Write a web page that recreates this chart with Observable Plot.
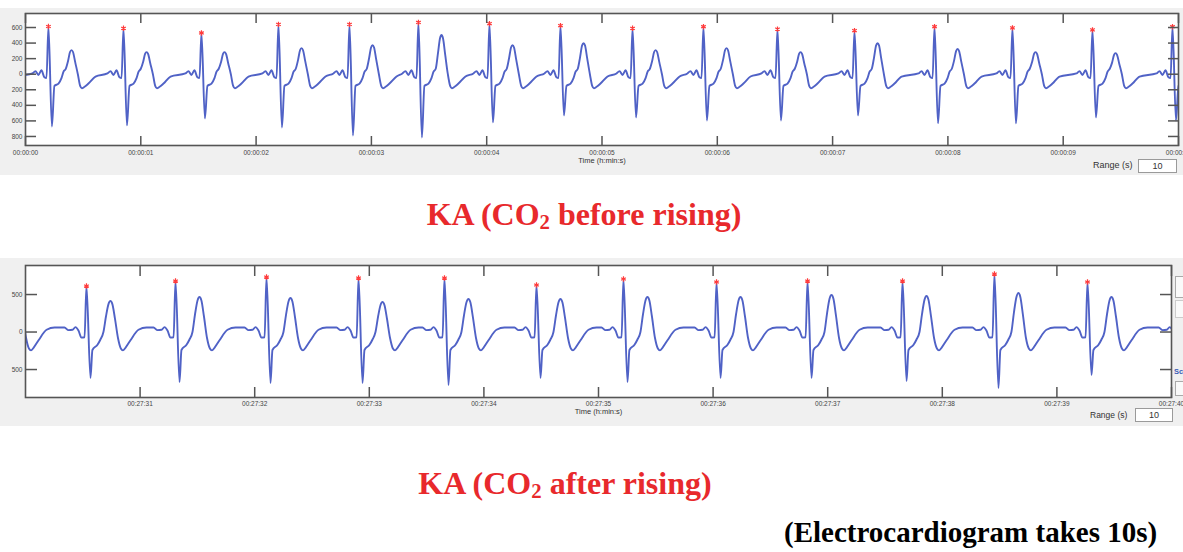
<!DOCTYPE html>
<html>
<head>
<meta charset="utf-8">
<script src="https://cdn.jsdelivr.net/npm/d3@7"></script>
<script src="https://cdn.jsdelivr.net/npm/@observablehq/plot@0.6"></script>
<style>
  html, body { margin: 0; padding: 0; background: #ffffff; overflow: hidden; }
  body { position: relative; width: 1183px; height: 552px; font-family: "Liberation Sans", Arial, sans-serif; }
  .panelbg { position: absolute; left: 0; width: 1183px; background: #f0f0f0; }
  .chart { position: absolute; left: 0; }
  .title { position: absolute; font-family: "Liberation Serif", "Times New Roman", serif; font-weight: bold; color: #e8292c; font-size: 32px; line-height: 1; white-space: nowrap; text-align: center; width: 600px; }
  .title sub { font-size: 0.65em; vertical-align: -0.18em; line-height: 0; }
  .caption { position: absolute; font-family: "Liberation Serif", "Times New Roman", serif; font-weight: bold; color: #000; font-size: 29px; line-height: 1; white-space: nowrap; }
  .rlabel { position: absolute; color: #333; white-space: nowrap; line-height: 1; }
  .rbox { position: absolute; background: #fff; border: 1px solid #9a9a9a; box-sizing: border-box; color: #333; text-align: center; line-height: 1; }
  .ui { position: absolute; box-sizing: border-box; }
</style>
</head>
<body>
<div class="panelbg" style="top:8px;height:167px"></div>
<div class="panelbg" style="top:258px;height:168px"></div>
<div id="chartTop" class="chart" style="top:0px"></div>
<div id="chartBottom" class="chart" style="top:258px"></div>

<div class="rlabel" style="left:1093px;top:161px;font-size:9px">Range (s)</div>
<div class="rbox" style="left:1138px;top:159px;width:39px;height:14px;font-size:9px;padding-top:2px">10</div>
<div class="rlabel" style="left:1090px;top:411px;font-size:8.5px">Range (s)</div>
<div class="rbox" style="left:1135px;top:408px;width:38px;height:14px;font-size:9px;padding-top:2px">10</div>

<div class="ui" style="left:1175px;top:276px;width:10px;height:22px;border:1px solid #aaa;background:#fafafa"></div>
<div class="ui" style="left:1175px;top:300px;width:10px;height:18px;border:1px solid #ccc;background:#fafafa"></div>
<div class="ui" style="left:1174px;top:368px;font-size:7.5px;font-weight:bold;color:#3a5bb5;line-height:1">Sc</div>
<div class="ui" style="left:1175px;top:381px;width:10px;height:15px;border:1px solid #aaa;background:#fafafa"></div>

<div class="title" style="left:284px;top:198px">KA (CO<sub>2</sub> before rising)</div>
<div class="title" style="left:265px;top:467px">KA (CO<sub>2</sub> after rising)</div>
<div class="caption" style="left:784px;top:518px">(Electrocardiogram takes 10s)</div>

<script>
// ---------- Top recording: 00:00:00 – 00:00:10 (CO2 before rising) ----------
// R-peak times (s); first and last are the neighbouring beats just outside the window
const beatTimeTop = [-0.47, 0.199, 0.850, 1.526, 2.194, 2.810, 3.408, 4.024, 4.640, 5.265, 5.880, 6.522, 7.190, 7.884, 8.560, 9.254, 9.948, 10.60];
const rPeakTop    = [600, 613, 590, 530, 640, 640, 665, 650, 625, 590, 610, 580, 560, 610, 595, 570, 610, 600];
const sTroughTop  = [-600, -671, -658, -568, -684, -787, -813, -619, -529, -555, -594, -594, -529, -632, -632, -555, -594, -600];
const tWaveTop    = [300, 310, 284, 284, 335, 374, 503, 374, 400, 310, 335, 284, 400, 323, 284, 271, 300, 300];
// beat shape: [seconds from R peak, value, reference]
// reference "S"/"T": value is a fraction of that beat's own S / T amplitude
const afterRTop  = [[0.030, 1, "S"], [0.052, -150], [0.087, -120], [0.113, -50], [0.130, 30], [0.150, 70],
                    [0.170, 0.55, "T"], [0.187, 0.92, "T"], [0.200, 1, "T"], [0.213, 0.92, "T"], [0.232, 0.5, "T"],
                    [0.255, 0], [0.275, -150], [0.290, -180], [0.310, -165], [0.347, -120], [0.408, -30]];
const beforeRTop = [[-0.139, 10], [-0.113, 40], [-0.087, -10], [-0.061, 50], [-0.035, -40], [-0.017, -50]];
const xTicksTop = [0, 1, 2, 3, 4, 5, 6, 7, 8, 9, 10];
const yTicksTop = [600, 400, 200, 0, -200, -400, -600, -800];

// ---------- Bottom recording: 00:27:30 – 00:27:40 (CO2 after rising) ----------
const beatTimeBottom = [29.73, 30.532, 31.309, 32.103, 32.906, 33.656, 34.459, 35.218, 36.030, 36.824, 37.653, 38.455, 39.267, 40.08];
const rPeakBottom    = [650, 613, 680, 733, 720, 720, 627, 707, 667, 680, 680, 773, 667, 650];
const sTroughBottom  = [-600, -613, -667, -680, -680, -707, -613, -667, -613, -613, -653, -747, -573, -600];
const tWaveBottom    = [430, 413, 467, 453, 400, 440, 440, 467, 467, 493, 480, 520, 467, 450];
const afterRBottom  = [[0.035, 1, "S"], [0.052, -240], [0.096, -170], [0.122, -100], [0.148, 0],
                       [0.170, 0.5, "T"], [0.192, 0.9, "T"], [0.209, 1, "T"], [0.226, 0.9, "T"], [0.248, 0.45, "T"],
                       [0.275, -80], [0.300, -220], [0.318, -245], [0.340, -210], [0.384, -110], [0.454, 30], [0.524, 60]];
const beforeRBottom = [[-0.192, 60], [-0.157, 25], [-0.122, 30], [-0.096, 65], [-0.070, 20], [-0.044, -75], [-0.017, -70]];
const xTicksBottom = [31, 32, 33, 34, 35, 36, 37, 38, 39, 40];
const yTicksBottom = [500, 0, -500];

const timeLabel = "Time (h:min:s)";

function buildTrace(times, R, S, T, after, before) {
  const pts = [];
  const val = (i, v, ref) => ref === "S" ? v * S[i] : ref === "T" ? v * T[i] : v;
  times.forEach((b, i) => {
    for (const [dt, v, ref] of before) pts.push({t: b + dt, v: val(i, v, ref)});
    pts.push({t: b, v: R[i]});
    for (const [dt, v, ref] of after) pts.push({t: b + dt, v: val(i, v, ref)});
  });
  return pts;
}
function peaksOf(times, R, lo, hi) {
  return times.map((t, i) => ({t, v: R[i]})).filter(d => d.t >= lo && d.t <= hi);
}

const W = 1183;
function ecgPlot(o) {
  const ml = 25;
  const pw = W - ml - o.mr, ph = o.height - o.mt - o.mb;
  const tickStyle = {stroke: "#555", strokeWidth: 1.5, label: null, tickFormat: () => ""};
  return Plot.plot({
    width: W, height: o.height,
    marginLeft: ml, marginRight: o.mr, marginTop: o.mt, marginBottom: o.mb,
    style: {background: "transparent", fontFamily: "'Liberation Sans', Arial, sans-serif", fontSize: "6.5px", color: "#444", overflow: "visible"},
    x: {domain: o.xDomain},
    y: {domain: o.yDomain},
    marks: [
      Plot.frame({fill: "white"}),
      Plot.line(o.trace, {x: "t", y: "v", stroke: "#5062c6", strokeWidth: 1.9, curve: "monotone-x", clip: true}),
      Plot.dot(o.peaks, {x: "t", y: "v", symbol: "asterisk", r: 2.5, stroke: "#ff3b3b", strokeWidth: 1.2}),
      Plot.axisY(o.yTicks, {anchor: "left", tickSize: 0, tickPadding: 3, tickFormat: d => String(Math.abs(d)), label: null, fill: "#444"}),
      Plot.axisY(o.yTicks, {anchor: "right", tickSize: o.tickLen, dx: -pw, ...tickStyle}),
      Plot.axisY(o.yTicks, {anchor: "left", tickSize: o.tickLen, dx: pw, ...tickStyle}),
      Plot.axisX(o.xTicks, {anchor: "top", tickSize: o.tickLen, dy: ph, ...tickStyle}),
      Plot.axisX(o.xTicks, {anchor: "bottom", tickSize: o.tickLen, dy: -ph, ...tickStyle}),
      Plot.axisX(o.xTicks, {anchor: "bottom", tickSize: 0, tickPadding: o.labelPad, tickFormat: o.fmt, label: null, fill: "#444"}),
      Plot.text([timeLabel], {text: d => d, frameAnchor: "bottom", dy: o.timeDy, fontSize: 7.5, fill: "#333"}),
      Plot.frame({stroke: "#555", strokeWidth: 1.6})
    ]
  });
}

const topChart = ecgPlot({
  height: 178, mt: 13, mb: 33, mr: 5,
  xDomain: [0, 10], yDomain: [-916, 780],
  xTicks: xTicksTop, yTicks: yTicksTop, tickLen: 10, labelPad: 5, timeDy: 17,
  fmt: d => "00:00:" + String(d).padStart(2, "0"),
  trace: buildTrace(beatTimeTop, rPeakTop, sTroughTop, tWaveTop, afterRTop, beforeRTop),
  peaks: peaksOf(beatTimeTop, rPeakTop, 0, 10)
});
document.getElementById("chartTop").append(topChart);

const bottomChart = ecgPlot({
  height: 170, mt: 7, mb: 31, mr: 12,
  xDomain: [30, 40], yDomain: [-873, 887],
  xTicks: xTicksBottom, yTicks: yTicksBottom, tickLen: 11, labelPad: 3.5, timeDy: 16,
  fmt: d => "00:27:" + String(d).padStart(2, "0"),
  trace: buildTrace(beatTimeBottom, rPeakBottom, sTroughBottom, tWaveBottom, afterRBottom, beforeRBottom),
  peaks: peaksOf(beatTimeBottom, rPeakBottom, 30, 40)
});
document.getElementById("chartBottom").append(bottomChart);
</script>
</body>
</html>
